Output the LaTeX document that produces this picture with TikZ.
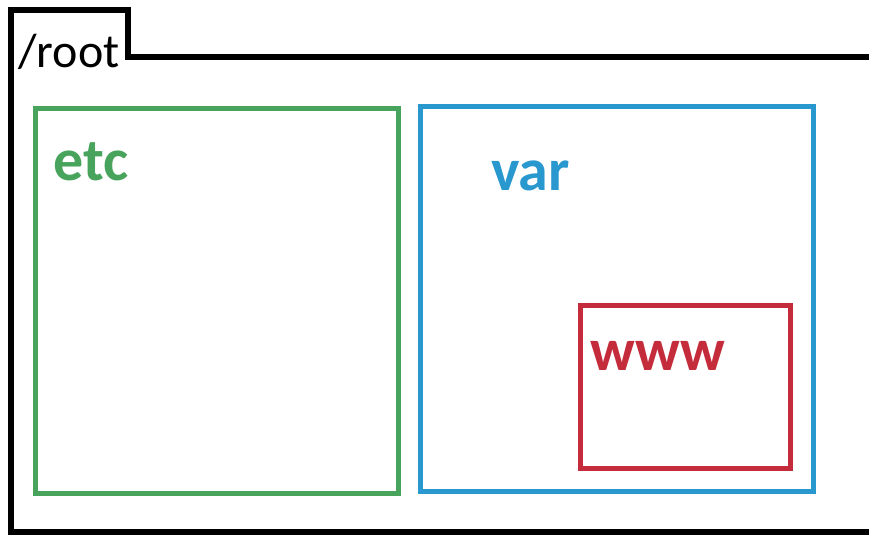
\documentclass[tikz,border=0pt]{standalone}
\usepackage{fontspec}
\setmainfont{Carlito}
\definecolor{etcgreen}{RGB}{72,164,92}
\definecolor{varblue}{RGB}{40,152,206}
\definecolor{wwwred}{RGB}{196,44,60}
\begin{document}
\begin{tikzpicture}[x=1pt,y=-1pt,
  dirbox/.style={draw,line width=5pt,inner sep=0pt,minimum width=#1},
  lbl/.style={anchor=base west,inner sep=0pt,font=\fontsize{60}{70}\selectfont\bfseries}]
\useasboundingbox[fill=white] (0,0) rectangle (869,535);
% outer root folder
\draw[line width=6pt,line join=miter] (869,57) -- (128,57) -- (128,10) -- (11,10) -- (11,532) -- (869,532);
\node[anchor=base west,inner sep=0pt,font=\fontsize{48}{58}\selectfont] (root) at (18,67) {/root};
% etc
\node[dirbox=363pt,minimum height=385pt,draw=etcgreen] (etcbox) at (216.5,300.5) {};
\node[lbl,text=etcgreen] (etc) at (53,180) {etc};
% var
\node[dirbox=393pt,minimum height=385pt,draw=varblue] (varbox) at (616.5,298.5) {};
\node[lbl,text=varblue] (var) at (491,190) {var};
% www
\node[dirbox=210pt,minimum height=163pt,draw=wwwred] (wwwbox) at (685,386.5) {};
\node[lbl,text=wwwred] (www) at (590,370) {www};
\end{tikzpicture}
\end{document}
